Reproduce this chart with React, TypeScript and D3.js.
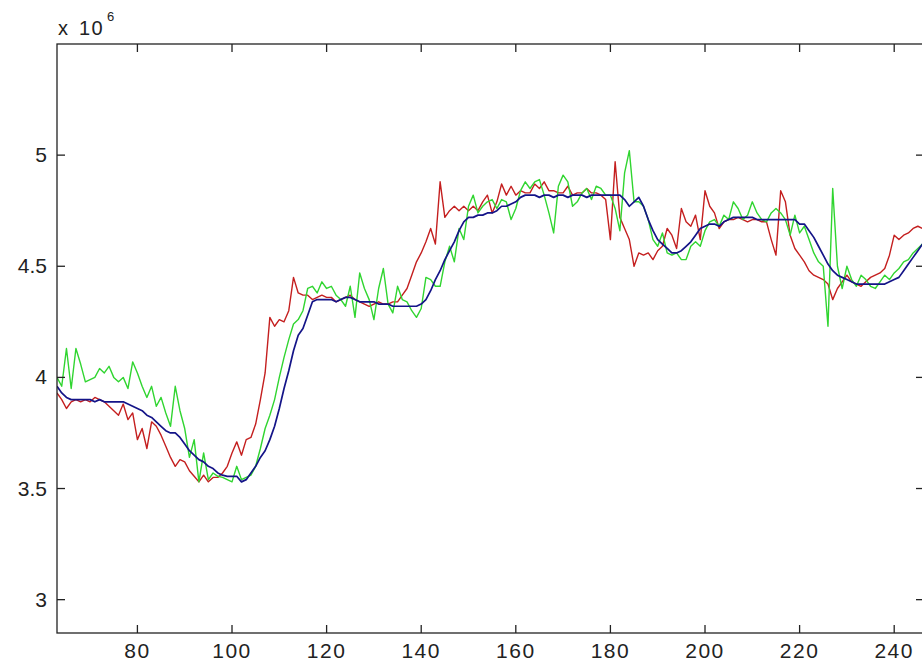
import React from "react";
import * as d3 from "d3";

const X_START = 63;
const sampleIndex = d3.range(X_START, 247);

const blueSeries = [
  3.96, 3.93, 3.91, 3.90, 3.90, 3.90, 3.90, 3.90, 3.89, 3.90,
  3.89, 3.89, 3.89, 3.89, 3.89, 3.88, 3.87, 3.86, 3.85, 3.83,
  3.82, 3.80, 3.78, 3.76, 3.75, 3.75, 3.73, 3.70, 3.67, 3.65,
  3.63, 3.62, 3.60, 3.59, 3.57, 3.56, 3.555, 3.555, 3.555, 3.53,
  3.54, 3.57, 3.60, 3.64, 3.67, 3.72, 3.78, 3.86, 3.95, 4.03,
  4.12, 4.19, 4.22, 4.28, 4.34, 4.35, 4.35, 4.35, 4.35, 4.34,
  4.35, 4.36, 4.36, 4.35, 4.34, 4.34, 4.34, 4.34, 4.33, 4.33,
  4.33, 4.32, 4.32, 4.32, 4.32, 4.32, 4.32, 4.33, 4.35, 4.39,
  4.44, 4.48, 4.53, 4.57, 4.61, 4.66, 4.70, 4.72, 4.72, 4.73,
  4.73, 4.74, 4.74, 4.75, 4.77, 4.77, 4.78, 4.79, 4.81, 4.82,
  4.82, 4.82, 4.81, 4.82, 4.82, 4.81, 4.82, 4.82, 4.81, 4.82,
  4.82, 4.82, 4.81, 4.82, 4.82, 4.82, 4.82, 4.82, 4.82, 4.82,
  4.80, 4.77, 4.79, 4.81, 4.77, 4.71, 4.66, 4.62, 4.60, 4.58,
  4.56, 4.56, 4.57, 4.59, 4.61, 4.64, 4.67, 4.68, 4.69, 4.69,
  4.68, 4.70, 4.71, 4.72, 4.72, 4.72, 4.72, 4.72, 4.71, 4.71,
  4.71, 4.71, 4.71, 4.71, 4.71, 4.71, 4.71, 4.69, 4.69, 4.66,
  4.63, 4.59, 4.55, 4.51, 4.48, 4.46, 4.45, 4.44, 4.43, 4.42,
  4.42, 4.42, 4.42, 4.42, 4.42, 4.42, 4.43, 4.44, 4.45, 4.48,
  4.51, 4.54, 4.57, 4.60,
];

const redSeries = [
  3.93, 3.90, 3.86, 3.89, 3.90, 3.89, 3.90, 3.89, 3.91, 3.90,
  3.89, 3.87, 3.85, 3.83, 3.88, 3.81, 3.84, 3.72, 3.77, 3.68,
  3.80, 3.78, 3.74, 3.69, 3.64, 3.60, 3.63, 3.62, 3.58, 3.555,
  3.53, 3.56, 3.53, 3.55, 3.55, 3.57, 3.60, 3.66, 3.71, 3.65,
  3.72, 3.73, 3.79, 3.90, 4.02, 4.27, 4.23, 4.26, 4.25, 4.30,
  4.45, 4.38, 4.37, 4.37, 4.35, 4.36, 4.37, 4.36, 4.36, 4.34,
  4.35, 4.36, 4.37, 4.35, 4.34, 4.33, 4.32, 4.33, 4.34, 4.33,
  4.33, 4.34, 4.34, 4.37, 4.40, 4.46, 4.52, 4.56, 4.61, 4.67,
  4.60, 4.88, 4.72, 4.75, 4.77, 4.75, 4.77, 4.75, 4.77, 4.75,
  4.79, 4.82, 4.74, 4.79, 4.87, 4.82, 4.86, 4.82, 4.84, 4.83,
  4.83, 4.87, 4.85, 4.88, 4.84, 4.84, 4.83, 4.83, 4.86, 4.82,
  4.83, 4.83, 4.85, 4.83, 4.83, 4.82, 4.80, 4.62, 4.97, 4.72,
  4.67, 4.62, 4.50, 4.56, 4.55, 4.56, 4.53, 4.57, 4.59, 4.67,
  4.64, 4.58, 4.76, 4.70, 4.68, 4.73, 4.62, 4.84, 4.77, 4.74,
  4.67, 4.70, 4.71, 4.71, 4.72, 4.71, 4.70, 4.71, 4.71, 4.70,
  4.70, 4.62, 4.55, 4.84, 4.79, 4.64, 4.58, 4.55, 4.52, 4.48,
  4.46, 4.45, 4.44, 4.42, 4.35, 4.40, 4.43, 4.46, 4.43, 4.42,
  4.41, 4.43, 4.45, 4.46, 4.47, 4.49, 4.55, 4.64, 4.62, 4.64,
  4.65, 4.67, 4.68, 4.67,
];

const greenSeries = [
  4.00, 3.96, 4.13, 3.95, 4.13, 4.06, 3.98, 3.99, 4.00, 4.04,
  4.02, 4.05, 4.00, 3.98, 4.00, 3.95, 4.07, 4.02, 3.96, 3.91,
  3.96, 3.87, 3.91, 3.84, 3.78, 3.96, 3.85, 3.77, 3.64, 3.72,
  3.53, 3.66, 3.54, 3.57, 3.555, 3.55, 3.54, 3.53, 3.60, 3.54,
  3.55, 3.56, 3.60, 3.68, 3.77, 3.83, 3.90, 4.00, 4.09, 4.17,
  4.24, 4.26, 4.30, 4.40, 4.41, 4.38, 4.43, 4.40, 4.41, 4.37,
  4.35, 4.32, 4.41, 4.27, 4.47, 4.40, 4.35, 4.26, 4.40, 4.49,
  4.33, 4.29, 4.41, 4.35, 4.34, 4.30, 4.27, 4.31, 4.45, 4.44,
  4.41, 4.41, 4.52, 4.59, 4.52, 4.67, 4.62, 4.77, 4.82, 4.74,
  4.77, 4.79, 4.80, 4.76, 4.80, 4.79, 4.71, 4.76, 4.84, 4.88,
  4.85, 4.88, 4.89, 4.82, 4.74, 4.65, 4.86, 4.91, 4.88, 4.77,
  4.79, 4.83, 4.85, 4.80, 4.86, 4.85, 4.82, 4.82, 4.76, 4.66,
  4.92, 5.02, 4.79, 4.79, 4.77, 4.71, 4.62, 4.59, 4.65, 4.56,
  4.55, 4.56, 4.53, 4.53, 4.59, 4.61, 4.59, 4.66, 4.70, 4.71,
  4.68, 4.73, 4.71, 4.79, 4.76, 4.71, 4.73, 4.79, 4.74, 4.71,
  4.70, 4.74, 4.76, 4.74, 4.71, 4.64, 4.73, 4.65, 4.68, 4.62,
  4.56, 4.52, 4.50, 4.23, 4.85, 4.50, 4.40, 4.50, 4.44, 4.41,
  4.46, 4.44, 4.41, 4.40, 4.43, 4.46, 4.44, 4.47, 4.49, 4.52,
  4.53, 4.56, 4.58, 4.60,
];

const xTickValues = [80, 100, 120, 140, 160, 180, 200, 220, 240];
const yTickValues = [3, 3.5, 4, 4.5, 5];

const W = 922;
const H = 666;
const LEFT = 57;
const RIGHT = 924;
const TOP = 44;
const BOTTOM = 633;
const TICK = 8;
const FONT = "'Liberation Sans', Arial, sans-serif";

export default function App() {
  const x = d3.scaleLinear().domain([63, 246.3]).range([LEFT, RIGHT]);
  const y = d3.scaleLinear().domain([2.85, 5.5]).range([BOTTOM, TOP]);

  const mk = (vals: number[]) =>
    d3
      .line<number>()
      .x((_, i) => x(sampleIndex[i]))
      .y((d) => y(d))(vals) || "";

  const series = [
    { vals: redSeries, color: "#c41f1f", w: 1.4 },
    { vals: greenSeries, color: "#30d530", w: 1.4 },
    { vals: blueSeries, color: "#141488", w: 1.7 },
  ];

  return (
    <svg
      width={W}
      height={H}
      style={{ position: "absolute", left: 0, top: 0, background: "#fff" }}
    >
      <defs>
        <clipPath id="plotClip">
          <rect x={LEFT} y={TOP} width={RIGHT - LEFT} height={BOTTOM - TOP} />
        </clipPath>
      </defs>
      <rect x={0} y={0} width={W} height={H} fill="#fff" />
      <g clipPath="url(#plotClip)">
        {series.map((s, i) => (
          <path
            key={i}
            d={mk(s.vals)}
            fill="none"
            stroke={s.color}
            strokeWidth={s.w}
            strokeLinejoin="round"
          />
        ))}
      </g>
      <rect
        x={LEFT}
        y={TOP}
        width={RIGHT - LEFT}
        height={BOTTOM - TOP}
        fill="none"
        stroke="#222"
        strokeWidth={1.3}
      />
      {xTickValues.map((t) => (
        <g key={"x" + t}>
          <line x1={x(t)} x2={x(t)} y1={BOTTOM} y2={BOTTOM - TICK} stroke="#222" strokeWidth={1.3} />
          <line x1={x(t)} x2={x(t)} y1={TOP} y2={TOP + TICK} stroke="#222" strokeWidth={1.3} />
          <text
            x={x(t)}
            y={658}
            textAnchor="middle"
            fontFamily={FONT}
            fontSize={21}
            letterSpacing={1.5}
            fill="#222"
          >
            {t}
          </text>
        </g>
      ))}
      {yTickValues.map((t) => (
        <g key={"y" + t}>
          <line x1={LEFT} x2={LEFT + TICK} y1={y(t)} y2={y(t)} stroke="#222" strokeWidth={1.3} />
          <line x1={RIGHT} x2={RIGHT - TICK} y1={y(t)} y2={y(t)} stroke="#222" strokeWidth={1.3} />
          <text
            x={47}
            y={y(t) + 7}
            textAnchor="end"
            fontFamily={FONT}
            fontSize={21}
            fill="#222"
          >
            {t}
          </text>
        </g>
      ))}
      <text x={58} y={35} fontFamily={FONT} fontSize={20} fill="#222">
        x
      </text>
      <text x={79} y={35} fontFamily={FONT} fontSize={20} letterSpacing={1.5} fill="#222">
        10
      </text>
      <text x={107} y={21} fontFamily={FONT} fontSize={13} fill="#222">
        6
      </text>
    </svg>
  );
}
